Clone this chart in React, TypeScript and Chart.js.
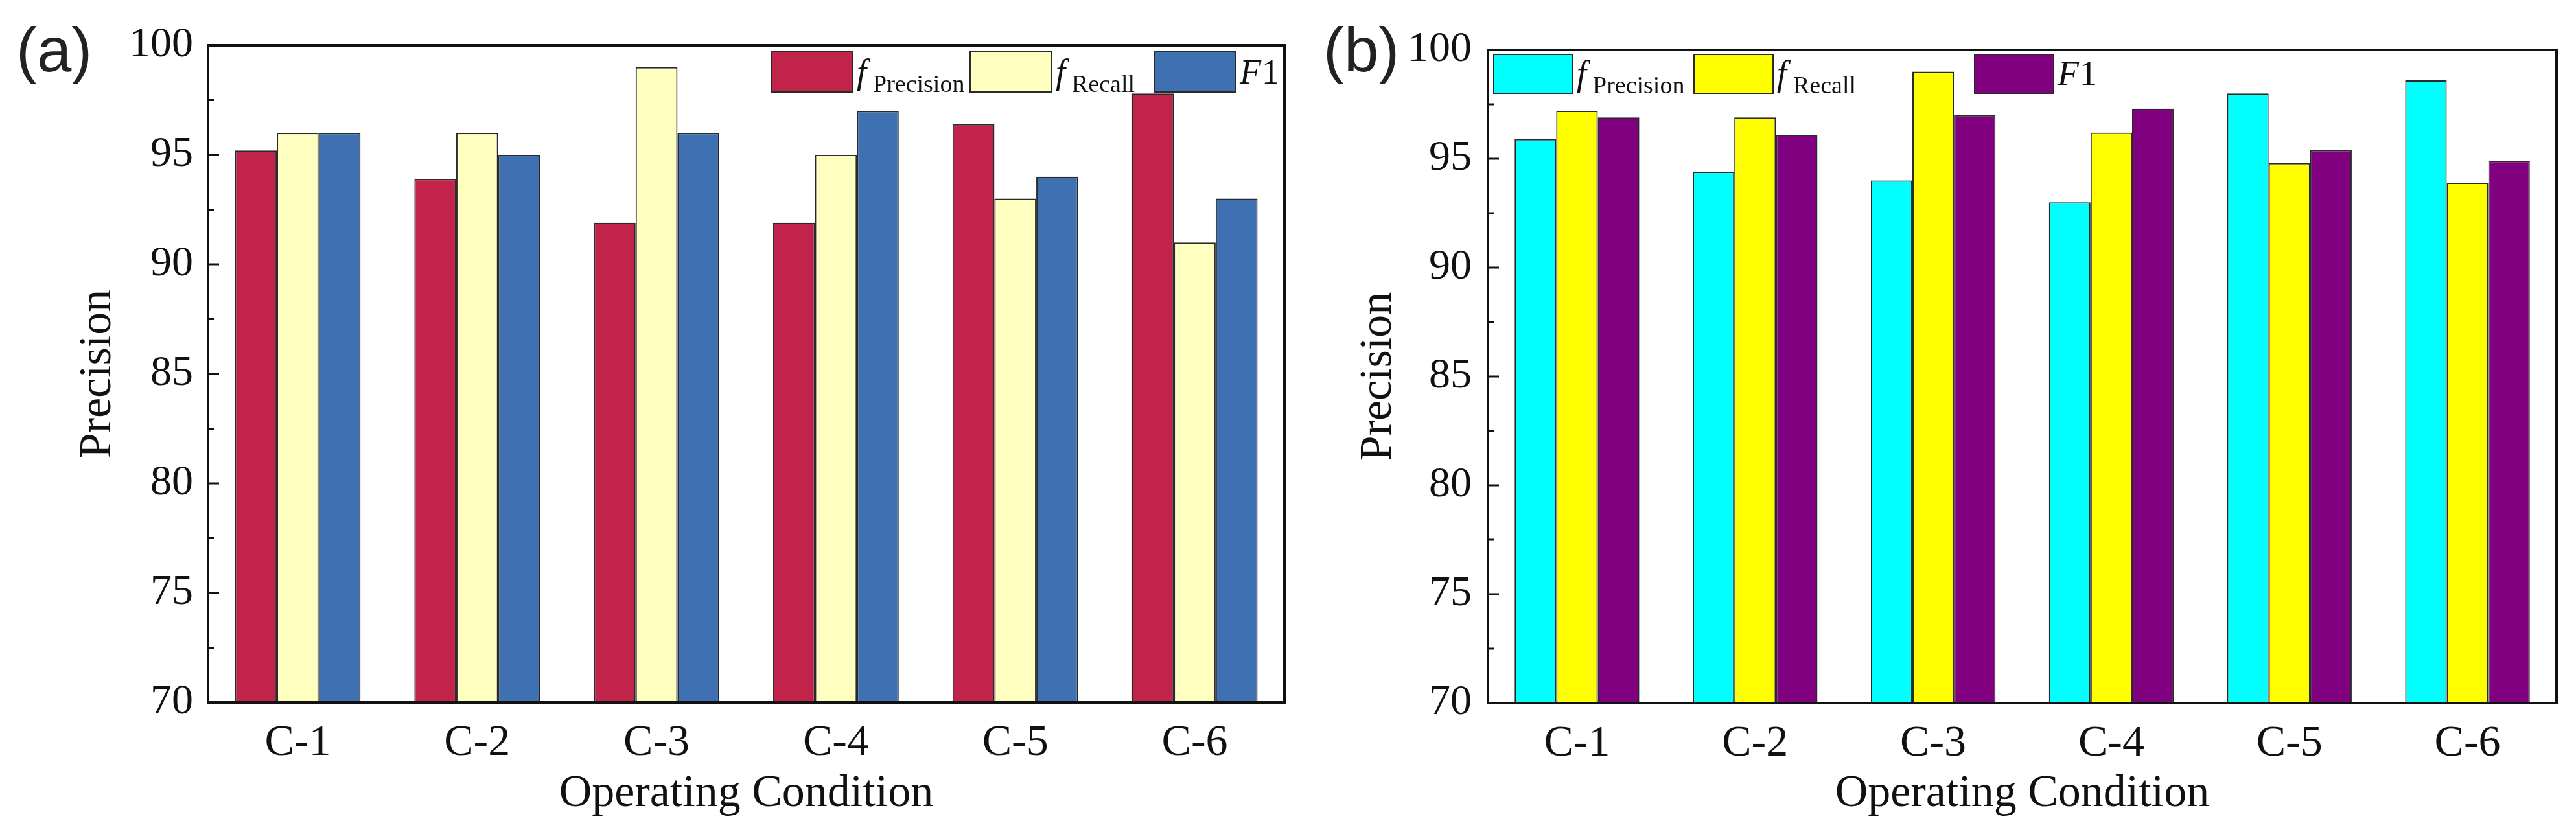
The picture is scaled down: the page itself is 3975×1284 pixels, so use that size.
import { useEffect, useRef } from "react"
import { Chart, registerables } from "chart.js"

Chart.register(...registerables)

const categories = ["C-1", "C-2", "C-3", "C-4", "C-5", "C-6"]
const yTicks = [70, 75, 80, 85, 90, 95, 100]

// panel (a)
const precisionA = [95.2, 93.9, 91.9, 91.9, 96.4, 97.8]
const recallA = [96, 96, 99, 95, 93, 91]
const f1A = [96, 95, 96, 97, 94, 93]

// panel (b)
const precisionB = [95.9, 94.4, 94.0, 93.0, 98.0, 98.6]
const recallB = [97.2, 96.9, 99.0, 96.2, 94.8, 93.9]
const f1B = [96.9, 96.1, 97.0, 97.3, 95.4, 94.9]

const seriesLabels = ["fPrecision", "fRecall", "F1"]
// italic main letter, subscript, upright tail
const legendParts = [
  { main: "f", sub: "Precision", tail: "" },
  { main: "f", sub: "Recall", tail: "" },
  { main: "F", sub: "", tail: "1" },
]

const SERIF = '"Liberation Serif", "Times New Roman", serif'
const INK = "#111"

// box round the plot and inward ticks on the left axis
const framePlugin = {
  id: "frame",
  afterDatasetsDraw(chart: any) {
    const { ctx, chartArea: a, scales } = chart
    const y = scales.y
    ctx.save()
    ctx.strokeStyle = INK
    ctx.lineWidth = 3
    for (let i = 0; i < yTicks.length; i++) {
      const py = y.getPixelForValue(yTicks[i])
      ctx.beginPath()
      ctx.moveTo(a.left, py)
      ctx.lineTo(a.left + 17, py)
      ctx.stroke()
      if (i < yTicks.length - 1) {
        const my = y.getPixelForValue((yTicks[i] + yTicks[i + 1]) / 2)
        ctx.beginPath()
        ctx.moveTo(a.left, my)
        ctx.lineTo(a.left + 9, my)
        ctx.stroke()
      }
    }
    ctx.lineWidth = 4
    ctx.strokeRect(a.left, a.top, a.right - a.left, a.bottom - a.top)
    ctx.restore()
  },
}

const legendPlugin = {
  id: "subLegend",
  afterDatasetsDraw(chart: any, _args: any, opts: any) {
    const { ctx, chartArea } = chart
    ctx.save()
    chart.data.datasets.forEach((ds: any, i: number) => {
      const x = chartArea.left + opts.xs[i]
      const y = chartArea.top + opts.top
      ctx.fillStyle = ds.backgroundColor
      ctx.fillRect(x, y, opts.boxW, opts.boxH)
      ctx.strokeStyle = ds.borderColor
      ctx.lineWidth = 2
      ctx.strokeRect(x, y, opts.boxW, opts.boxH)

      const part = legendParts[i]
      let tx = x + opts.boxW + 6
      ctx.fillStyle = INK
      ctx.textAlign = "left"
      ctx.textBaseline = "alphabetic"
      ctx.font = `italic 54px ${SERIF}`
      ctx.fillText(part.main, tx, y + opts.boxH - 13)
      tx += ctx.measureText(part.main).width
      if (part.sub) {
        ctx.font = `38px ${SERIF}`
        ctx.fillText(part.sub, tx + 10, y + opts.boxH)
      }
      if (part.tail) {
        ctx.font = `54px ${SERIF}`
        ctx.fillText(part.tail, tx + 1, y + opts.boxH - 13)
      }
    })
    ctx.restore()
  },
}

type PanelProps = {
  tag: string
  tagLeft: number
  left: number
  width: number
  series: number[][]
  colors: string[]
  padTop: number
  padRight: number
  yWidth: number
  xHeight: number
  yTitlePad: number
  yTickPad: number
  legendXs: number[]
  legendTop: number
  boxW: number
  boxH: number
}

function Panel(p: PanelProps) {
  const chartRef = useRef<HTMLCanvasElement>(null)
  const chartInstance = useRef<Chart | null>(null)

  useEffect(() => {
    if (!chartRef.current) return
    if (chartInstance.current) chartInstance.current.destroy()
    const ctx = chartRef.current.getContext("2d")
    if (!ctx) return

    chartInstance.current = new Chart(ctx, {
      type: "bar",
      data: {
        labels: categories,
        datasets: p.series.map((data, i) => ({
          label: seriesLabels[i],
          data,
          backgroundColor: p.colors[i],
          borderColor: "#2a2a2a",
          borderWidth: 2,
          barPercentage: 1,
          categoryPercentage: 0.7,
        })),
      },
      options: {
        responsive: true,
        maintainAspectRatio: false,
        animation: false,
        layout: { padding: { top: p.padTop, right: p.padRight, left: 0, bottom: 0 } },
        plugins: {
          legend: { display: false },
          tooltip: { enabled: false },
          subLegend: { xs: p.legendXs, top: p.legendTop, boxW: p.boxW, boxH: p.boxH },
        } as any,
        scales: {
          x: {
            grid: { display: false, drawTicks: false },
            border: { display: false },
            ticks: { color: INK, font: { family: SERIF, size: 68 }, padding: 22, maxRotation: 0, autoSkip: false },
            title: {
              display: true,
              text: "Operating Condition",
              color: INK,
              font: { family: SERIF, size: 70 },
              padding: { top: 0, bottom: 16 },
            },
            afterFit: (s: any) => {
              s.height = p.xHeight
            },
          },
          y: {
            min: yTicks[0],
            max: yTicks[yTicks.length - 1],
            grid: { display: false, drawTicks: false },
            border: { display: false },
            ticks: { stepSize: 5, color: INK, font: { family: SERIF, size: 66 }, padding: p.yTickPad },
            title: {
              display: true,
              text: "Precision",
              color: INK,
              font: { family: SERIF, size: 70 },
              padding: { top: p.yTitlePad, bottom: 0 },
            },
            afterFit: (s: any) => {
              s.width = p.yWidth
            },
          },
        },
      },
      plugins: [framePlugin, legendPlugin],
    })

    return () => {
      if (chartInstance.current) {
        chartInstance.current.destroy()
        chartInstance.current = null
      }
    }
  }, [])

  return (
    <>
      <div style={{ position: "absolute", left: p.left, top: 0, width: p.width, height: 1284 }}>
        <canvas ref={chartRef} />
      </div>
      <div
        style={{
          position: "absolute",
          left: p.tagLeft,
          top: 29,
          fontFamily: '"Liberation Sans", Arial, sans-serif',
          fontSize: 96,
          lineHeight: 1,
          color: "#222",
        }}
      >
        {p.tag}
      </div>
    </>
  )
}

export default function App() {
  return (
    <div style={{ position: "absolute", left: 0, top: 0, width: 3975, height: 1284, background: "#fff", overflow: "hidden" }}>
      <Panel
        tag="(a)"
        tagLeft={25}
        left={0}
        width={1990}
        series={[precisionA, recallA, f1A]}
        colors={["#c1234a", "#ffffc0", "#3e70b2"]}
        padTop={70}
        padRight={8}
        yWidth={321}
        xHeight={200}
        yTitlePad={110}
        yTickPad={23}
        legendXs={[869, 1176, 1460]}
        legendTop={9}
        boxW={126}
        boxH={63}
      />
      <Panel
        tag="(b)"
        tagLeft={2042}
        left={1990}
        width={1985}
        series={[precisionB, recallB, f1B]}
        colors={["#00ffff", "#ffff00", "#800080"]}
        padTop={77}
        padRight={30}
        yWidth={306}
        xHeight={199}
        yTitlePad={96}
        yTickPad={25}
        legendXs={[9, 318, 751]}
        legendTop={7}
        boxW={122}
        boxH={60}
      />
    </div>
  )
}
